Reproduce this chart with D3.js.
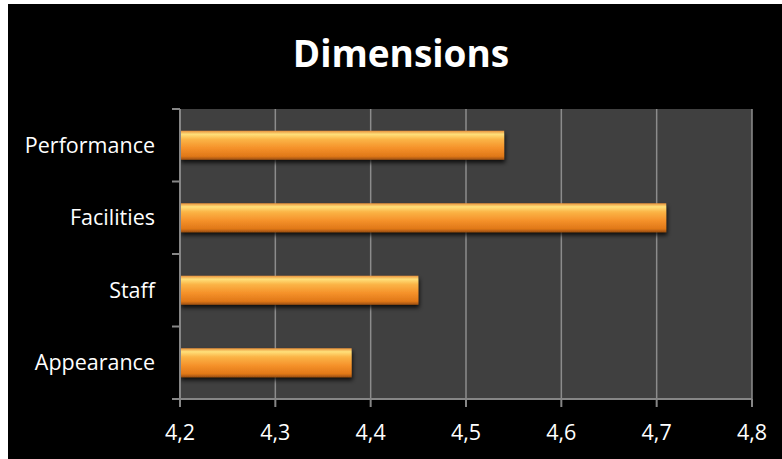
<!DOCTYPE html>
<html>
<head>
<meta charset="utf-8">
<script src="https://cdn.jsdelivr.net/npm/d3@7"></script>
<style>
  body { margin: 0; background: #fff; }
  svg { display: block; }
  .cat text, .val text { fill: #fff; font-family: "Open Sans", Lato, sans-serif; font-size: 21.5px; }
</style>
</head>
<body>
<svg id="chart" width="782" height="459"></svg>
<script>
const categories = ['Performance', 'Facilities', 'Staff', 'Appearance'];
const values = [4.54, 4.71, 4.45, 4.38];
const xTicks = [4.2, 4.3, 4.4, 4.5, 4.6, 4.7, 4.8];

const svg = d3.select('#chart');
const margin = { left: 180, right: 30, top: 109, bottom: 60 };
const width = 782, height = 459;

// black chart area, white strip left and top
svg.append('rect')
    .attr('x', 8).attr('y', 4)
    .attr('width', width - 8).attr('height', height - 4)
    .attr('fill', '#000');

const x = d3.scaleLinear().domain([4.2, 4.8]).range([margin.left, 752]);
const y = d3.scaleBand().domain(categories).range([margin.top, 399]).paddingInner(0.6).paddingOuter(0.3);
const yEdges = d3.scaleLinear().domain([0, categories.length]).range([margin.top, 399]);

const defs = svg.append('defs');
const grad = defs.append('linearGradient')
    .attr('id', 'barGrad').attr('x1', 0).attr('y1', 0).attr('x2', 0).attr('y2', 1);
grad.append('stop').attr('offset', '0%').attr('stop-color', '#e8903a');
grad.append('stop').attr('offset', '12%').attr('stop-color', '#ffe07a');
grad.append('stop').attr('offset', '30%').attr('stop-color', '#fbb446');
grad.append('stop').attr('offset', '60%').attr('stop-color', '#f5912a');
grad.append('stop').attr('offset', '88%').attr('stop-color', '#e07818');
grad.append('stop').attr('offset', '100%').attr('stop-color', '#9a4e10');

const shadow = defs.append('filter').attr('id', 'shadow')
    .attr('x', '-5%').attr('y', '-30%').attr('width', '110%').attr('height', '170%');
shadow.append('feDropShadow').attr('dx', 1).attr('dy', 3).attr('stdDeviation', 2)
    .attr('flood-color', '#000').attr('flood-opacity', 0.8);

// plot background
svg.append('rect')
    .attr('x', margin.left).attr('y', margin.top)
    .attr('width', 752 - margin.left).attr('height', 399 - margin.top)
    .attr('fill', '#404040');

// grid lines
svg.append('g').selectAll('line')
    .data(xTicks.slice(1))
    .enter().append('line')
    .attr('x1', d => x(d)).attr('x2', d => x(d))
    .attr('y1', margin.top).attr('y2', 399)
    .attr('stroke', '#8c8c8c').attr('stroke-width', 1.5);

// bars
svg.append('g').selectAll('rect')
    .data(categories)
    .enter().append('rect')
    .attr('x', x(4.2))
    .attr('y', d => y(d))
    .attr('width', (d, i) => x(values[i]) - x(4.2))
    .attr('height', y.bandwidth())
    .attr('fill', 'url(#barGrad)')
    .attr('filter', 'url(#shadow)');

// y axis
const yAxis = svg.append('g').attr('class', 'cat');
yAxis.append('line')
    .attr('x1', margin.left).attr('x2', margin.left)
    .attr('y1', margin.top).attr('y2', 399)
    .attr('stroke', '#868686').attr('stroke-width', 2);
yAxis.selectAll('.tick')
    .data(d3.range(categories.length + 1))
    .enter().append('line')
    .attr('x1', margin.left - 8).attr('x2', margin.left)
    .attr('y1', d => yEdges(d)).attr('y2', d => yEdges(d))
    .attr('stroke', '#868686').attr('stroke-width', 2);
yAxis.selectAll('text')
    .data(categories)
    .enter().append('text')
    .attr('x', 155)
    .attr('y', d => y(d) + y.bandwidth() / 2)
    .attr('dy', '0.35em')
    .attr('text-anchor', 'end')
    .text(d => d);

// x axis
const xAxis = svg.append('g').attr('class', 'val');
xAxis.append('line')
    .attr('x1', margin.left).attr('x2', 752)
    .attr('y1', 399).attr('y2', 399)
    .attr('stroke', '#868686').attr('stroke-width', 2);
xAxis.selectAll('.tick')
    .data(xTicks)
    .enter().append('line')
    .attr('x1', d => x(d)).attr('x2', d => x(d))
    .attr('y1', 399).attr('y2', 407)
    .attr('stroke', '#868686').attr('stroke-width', 2);
xAxis.selectAll('text')
    .data(xTicks)
    .enter().append('text')
    .attr('x', d => x(d))
    .attr('y', 440)
    .attr('text-anchor', 'middle')
    .text(d => d3.format('.1f')(d).replace('.', ','));

// title
svg.append('text')
    .attr('x', 401).attr('y', 67)
    .attr('text-anchor', 'middle')
    .attr('fill', '#fff')
    .style('font-family', '"Open Sans", Lato, sans-serif')
    .style('font-weight', 'bold')
    .style('font-size', '37px')
    .text('Dimensions');
</script>
</body>
</html>
